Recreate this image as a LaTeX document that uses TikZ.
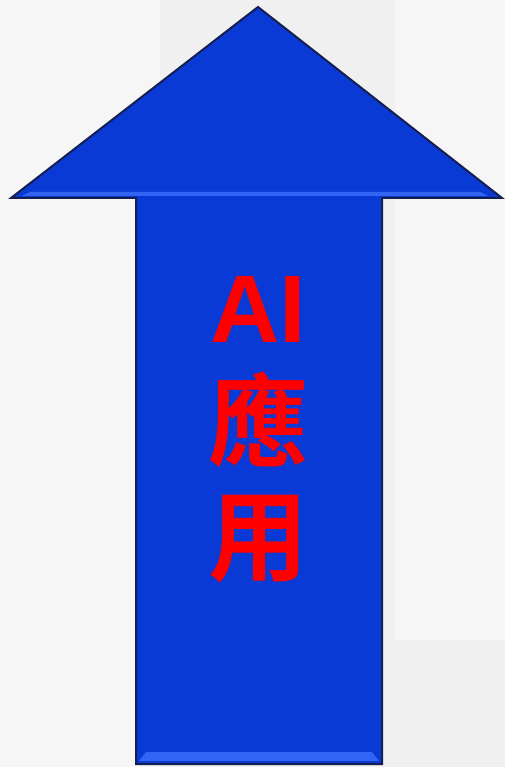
\documentclass[tikz,border=0pt]{standalone}
\usepackage{fontspec}
\setmainfont{Liberation Sans}
\newfontfamily\cjk{Noto Sans CJK TC}[BoldFont={* Bold}]
\definecolor{bg}{RGB}{240,240,240}
\definecolor{panel}{RGB}{246,246,246}
\definecolor{arrowblue}{RGB}{10,58,214}
\definecolor{arrowedge}{RGB}{20,30,80}
\definecolor{bevel}{RGB}{50,100,245}
\definecolor{txtred}{RGB}{255,0,0}
\tikzset{
  arrowbody/.style={fill=arrowblue, draw=arrowedge, line width=2pt, line join=miter},
  bevelstrip/.style={fill=bevel, draw=none},
  label/.style={text=txtred, font=\bfseries\fontsize{96}{96}\selectfont, inner sep=0pt, anchor=center}
}
\begin{document}
\begin{tikzpicture}[x=1pt,y=-1pt]
\useasboundingbox (0,0) rectangle (505,767);
\fill[bg] (0,0) rectangle (505,767);
\fill[panel] (0,0) rectangle (160,767);
\fill[panel] (395,0) rectangle (505,640);
% arrow
\coordinate (tip) at (258,7);
\coordinate (lw) at (11,198);
\coordinate (rw) at (502,198);
\coordinate (ls) at (136,198);
\coordinate (rs) at (382,198);
\coordinate (lb) at (136,764);
\coordinate (rb) at (382,764);
\draw[arrowbody] (tip) -- (rw) -- (rs) -- (rb) -- (lb) -- (ls) -- (lw) -- cycle;
% bevel highlights
\fill[bevelstrip] (30,192) -- (480,192) -- (488,196) -- (22,196) -- cycle;
\fill[bevelstrip] (146,752) -- (372,752) -- (379,761) -- (139,761) -- cycle;
% text
\node[label] (ai) at (258,309) {AI};
\node[label, font=\cjk\bfseries\fontsize{100}{100}\selectfont] (ying) at (258,420) {應};
\node[label, font=\cjk\bfseries\fontsize{100}{100}\selectfont] (yong) at (258,539) {用};
\end{tikzpicture}
\end{document}
